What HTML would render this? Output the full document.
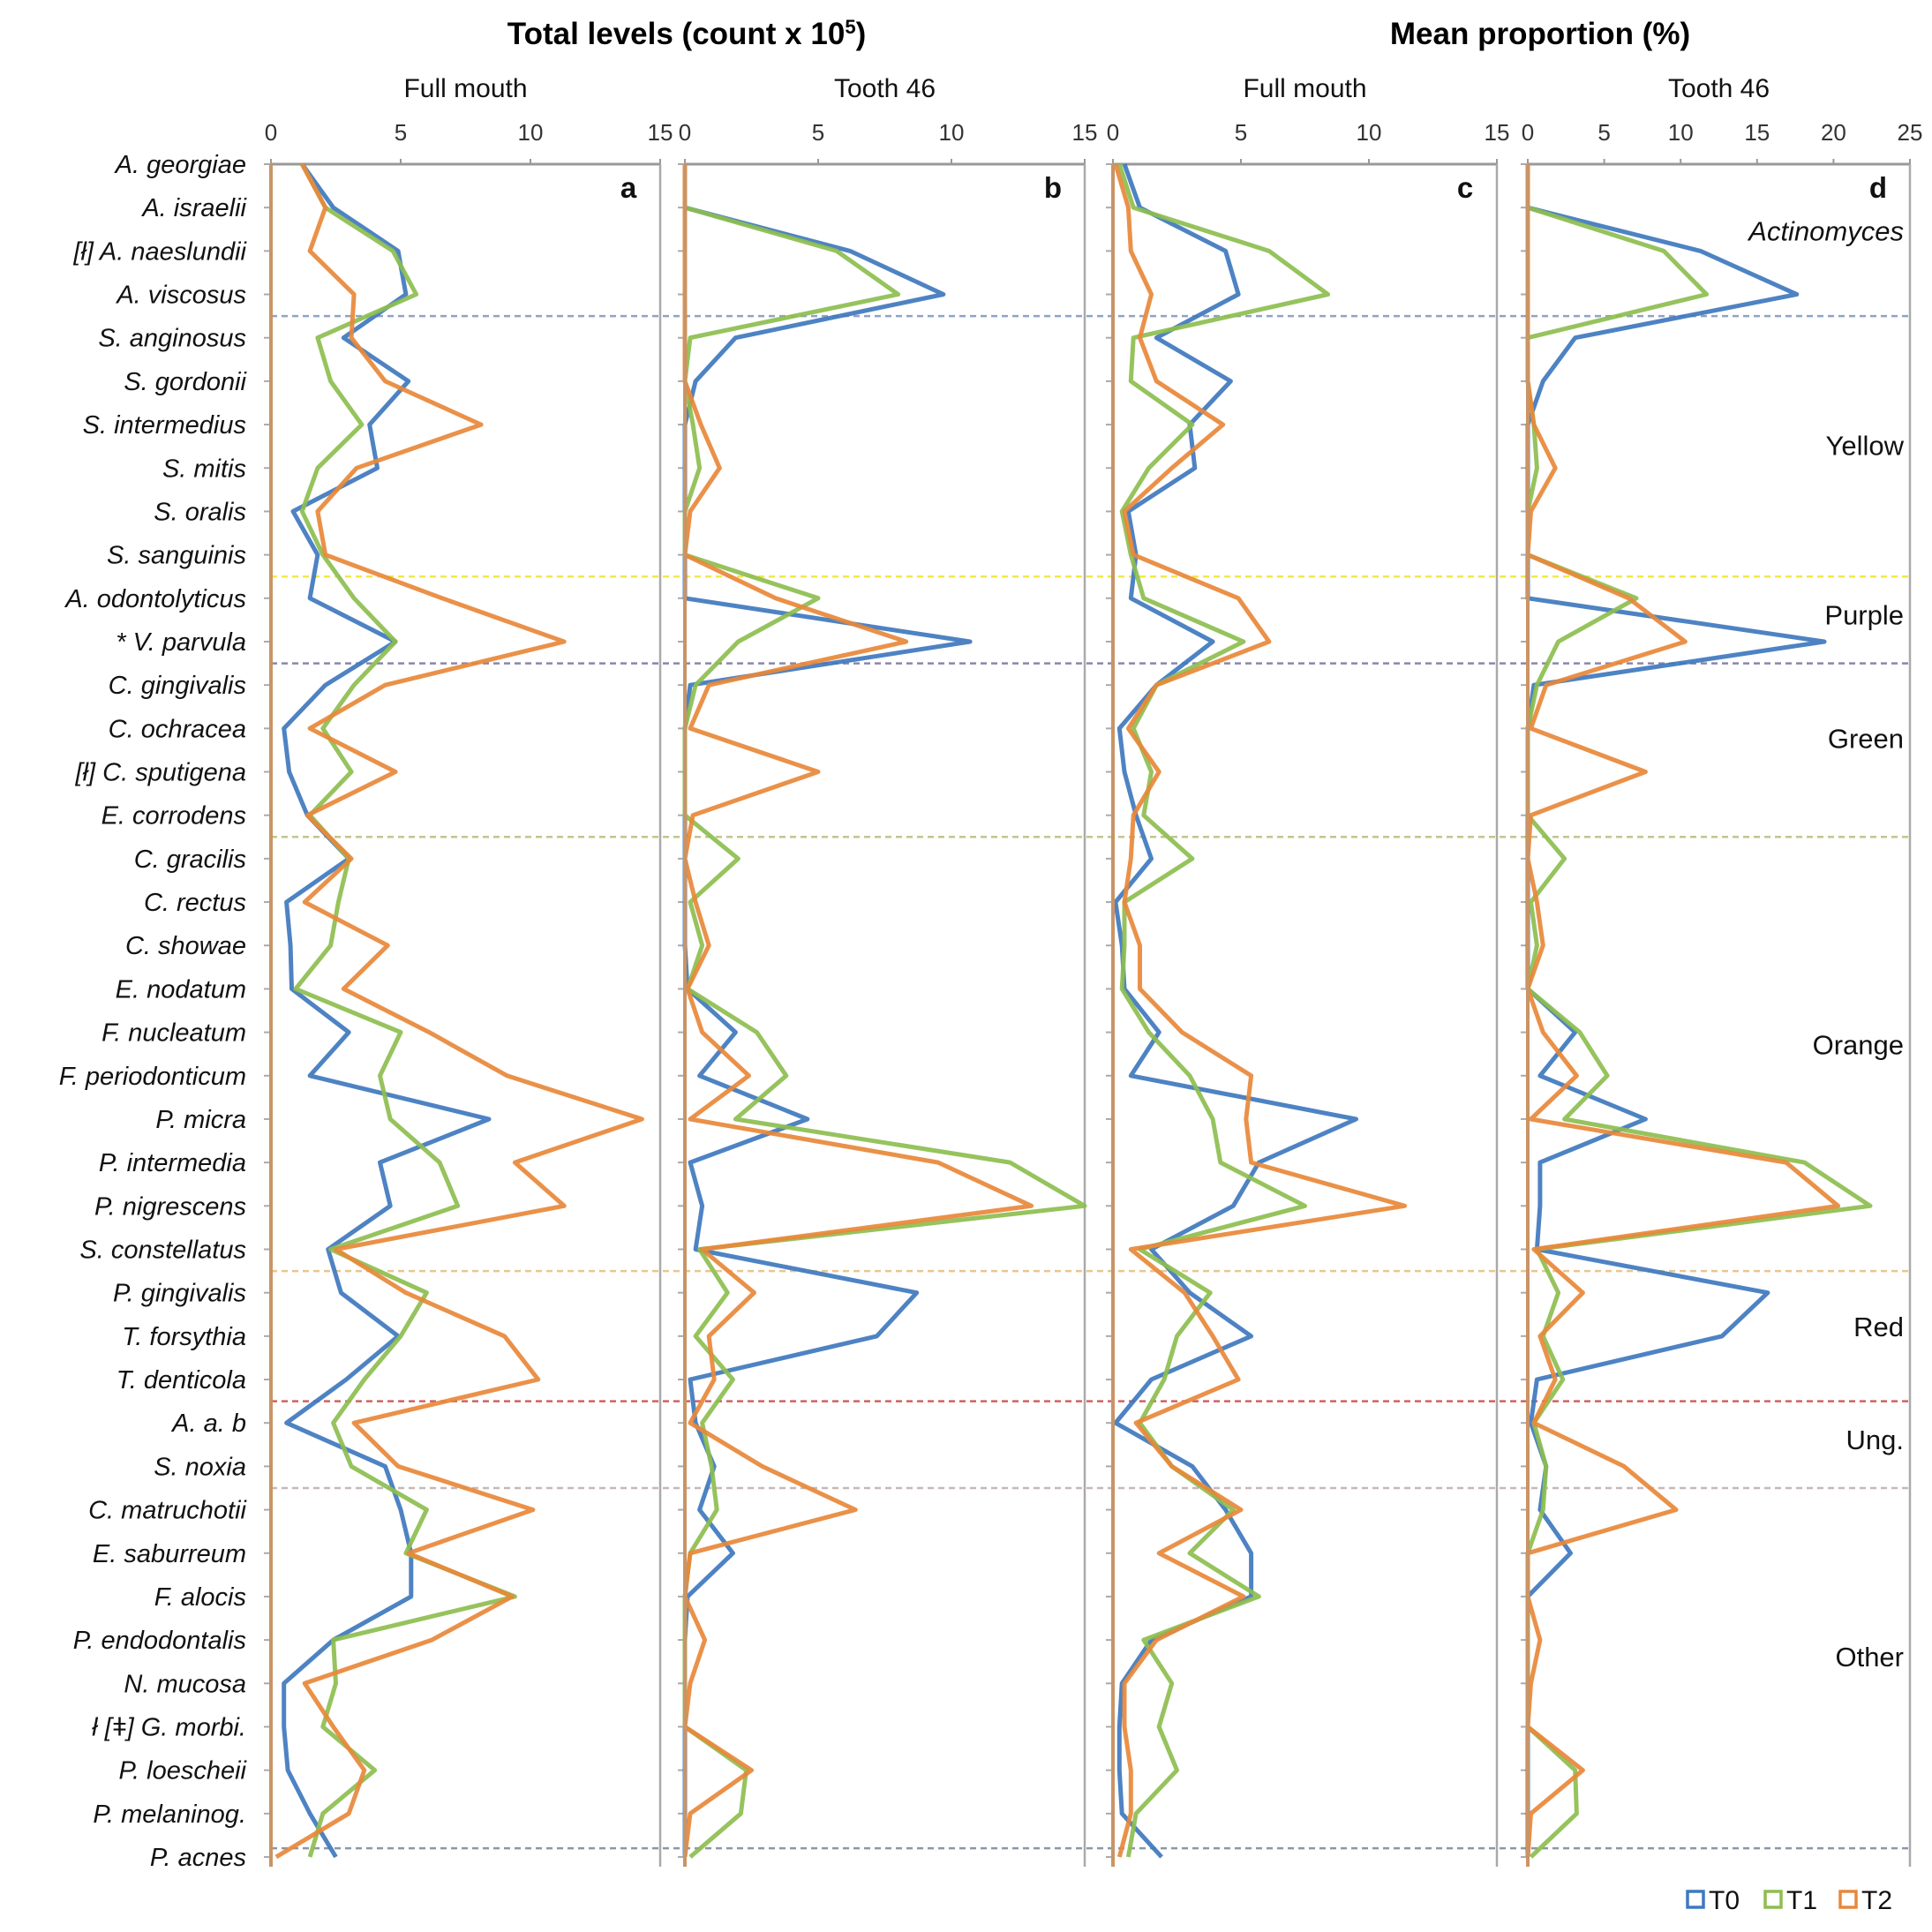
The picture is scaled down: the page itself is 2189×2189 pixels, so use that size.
<!DOCTYPE html>
<html><head><meta charset="utf-8">
<style>
html,body{margin:0;padding:0;background:#fff;}
svg{display:block;font-family:"Liberation Sans",sans-serif;}
</style></head>
<body>
<svg id="chart" width="2189" height="2189" viewBox="0 0 2189 2189" xmlns="http://www.w3.org/2000/svg">
<text x="778" y="50" text-anchor="middle" font-size="35" font-weight="bold">Total levels (count x 10<tspan font-size="22" dy="-12">5</tspan><tspan dy="12">)</tspan></text>
<text x="1745" y="50" text-anchor="middle" font-size="35" font-weight="bold">Mean proportion (%)</text>
<g id="plots"></g>
</svg>
<script>
const species = ["A. georgiae","A. israelii","[ł] A. naeslundii","A. viscosus","S. anginosus","S. gordonii","S. intermedius","S. mitis","S. oralis","S. sanguinis","A. odontolyticus","* V. parvula","C. gingivalis","C. ochracea","[ł] C. sputigena","E. corrodens","C. gracilis","C. rectus","C. showae","E. nodatum","F. nucleatum","F. periodonticum","P. micra","P. intermedia","P. nigrescens","S. constellatus","P. gingivalis","T. forsythia","T. denticola","A. a. b","S. noxia","C. matruchotii","E. saburreum","F. alocis","P. endodontalis","N. mucosa","ł [ǂ] G. morbi.","P. loescheii","P. melaninog.","P. acnes"];
const panelTitles = ["Full mouth","Tooth 46","Full mouth","Tooth 46"];
const panelLetters = ["a","b","c","d"];
const panelMax = [15,15,15,25];
const tickLabelsA = [0,5,10,15];
const tickLabelsD = [0,5,10,15,20,25];
const seriesNames = ["T0","T1","T2"];

const aT0 = [1.2,2.4,4.9,5.2,2.8,5.3,3.8,4.1,0.85,1.8,1.5,4.8,2.1,0.5,0.7,1.4,3.0,0.6,0.75,0.8,3.0,1.5,8.4,4.2,4.6,2.2,2.7,4.9,2.9,0.6,4.4,5.0,5.4,5.4,2.4,0.5,0.5,0.65,1.5,2.5];
const aT1 = [1.2,2.1,4.7,5.6,1.8,2.3,3.5,1.8,1.2,2.0,3.2,4.8,3.2,2.0,3.1,1.5,3.0,2.6,2.3,0.95,5.0,4.2,4.6,6.5,7.2,2.3,6.0,5.0,3.6,2.4,3.1,6.0,5.2,9.4,2.4,2.5,2.0,4.0,2.0,1.5];
const aT2 = [1.2,2.1,1.5,3.2,3.1,4.4,8.1,3.3,1.8,2.1,6.6,11.3,4.4,1.5,4.8,1.4,3.1,1.3,4.5,2.8,6.1,9.1,14.3,9.4,11.3,2.5,5.2,9.0,10.3,3.2,4.9,10.1,5.3,9.3,6.2,1.3,2.4,3.6,3.0,0.2];

const bT0 = [0,0,6.2,9.7,1.9,0.4,0,0,0,0,0,10.7,0.2,0,0,0,0,0,0,0.1,1.9,0.55,4.6,0.2,0.65,0.4,8.7,7.2,0.2,0.4,1.1,0.55,1.8,0.1,0,0,0,0,0,0];
const bT1 = [0,0,5.7,8.0,0.2,0,0.3,0.55,0,0,5.0,2.0,0.4,0,0,0,2.0,0.2,0.65,0.1,2.7,3.8,1.9,12.2,15.0,0.55,1.6,0.4,1.8,0.65,1.0,1.2,0.2,0,0,0,0,2.3,2.1,0.2];
const bT2 = [0,0,0,0,0,0,0.6,1.3,0.2,0,3.4,8.3,0.9,0.2,5.0,0.3,0,0.4,0.9,0.1,0.65,2.4,0.2,9.5,13.0,0.65,2.6,0.9,1.1,0.2,2.9,6.4,0.2,0,0.75,0.2,0,2.5,0.2,0];

const cT0 = [0.45,1.05,4.4,4.9,1.7,4.6,3.0,3.2,0.6,0.9,0.7,3.9,1.7,0.25,0.45,0.9,1.5,0.1,0.35,0.45,1.8,0.7,9.5,5.7,4.7,1.5,3.0,5.4,1.5,0.1,3.1,4.4,5.4,5.4,1.5,0.35,0.25,0.25,0.35,1.9];
const cT1 = [0.25,0.8,6.1,8.4,0.8,0.7,3.1,1.4,0.35,0.7,1.2,5.1,1.7,0.8,1.5,1.2,3.1,0.45,0.45,0.35,1.4,3.0,3.9,4.2,7.5,1.05,3.8,2.5,2.0,1.05,2.3,4.7,3.0,5.7,1.2,2.3,1.8,2.5,0.9,0.6];
const cT2 = [0.1,0.6,0.7,1.5,1.05,1.7,4.3,2.3,0.45,0.8,4.9,6.1,1.7,0.6,1.8,0.8,0.7,0.45,1.05,1.05,2.7,5.4,5.2,5.4,11.4,0.7,2.8,3.9,4.9,0.9,2.3,5.0,1.8,5.1,1.7,0.45,0.45,0.7,0.7,0.25];

const dT0 = [0,0,11.3,17.6,3.1,1.0,0,0,0,0,0,19.4,0.4,0,0,0,0,0,0,0,3.1,0.8,7.7,0.8,0.8,0.6,15.7,12.7,0.6,0.2,1.2,0.8,2.8,0,0,0,0,0,0,0];
const dT1 = [0,0,8.9,11.7,0,0,0.4,0.6,0,0,7.1,2.0,0.6,0,0,0,2.4,0.2,0.6,0,3.4,5.2,2.4,18.1,22.4,0.6,2.0,1.0,2.3,0.4,1.2,1.0,0,0,0,0,0,3.1,3.2,0.2];
const dT2 = [0,0,0,0,0,0,0.4,1.8,0.2,0,6.6,10.3,1.2,0.2,7.7,0.2,0,0.6,1.0,0,1.0,3.2,0.2,16.9,20.3,0.4,3.6,0.8,1.8,0.4,6.3,9.7,0,0,0.8,0.2,0,3.6,0.2,0];

const groupLabels = ["Actinomyces","Yellow","Purple","Green","Orange","Red","Ung.","Other"];
const groupRows = [1.56,6.5,10.4,13.25,20.3,26.8,29.4,34.4];
const sepRows = [3.5,9.5,11.5,15.5,25.5,28.5,30.5,38.8];
const sepColors = ["#8fa3c4","#f2e84a","#8a86aa","#c4c48e","#e8c690","#d06060","#c8b8b8","#8898aa"];

const NS = "http://www.w3.org/2000/svg";
const svg = document.getElementById('plots');
const colors = ["#3F78BE","#8DBE4F","#E8883A"];
const panels = [[307,748],[776,1229],[1261,1696],[1731,2164]];
const data = [[aT0,aT1,aT2],[bT0,bT1,bT2],[cT0,cT1,cT2],[dT0,dT1,dT2]];
const Y0 = 186, DY = 49.18, YB = 2115;
function yPos(i){return Y0 + i*DY;}
function xPos(p,v){return panels[p][0] + v/panelMax[p]*(panels[p][1]-panels[p][0]);}
function mk(tag, attrs, parent){const e=document.createElementNS(NS,tag);for(const k in attrs)e.setAttribute(k,attrs[k]);(parent||svg).appendChild(e);return e;}

species.forEach((s,i)=>{
  const t=mk('text',{x:279,y:yPos(i)+10,'text-anchor':'end','font-size':29,'font-style':'italic',fill:'#111'});
  
  
  t.textContent=s;
});

panels.forEach((pp,p)=>{
  const g=mk('g',{});
  
  
  const cx=(pp[0]+pp[1])/2;
  const st=mk('text',{x:cx,y:110,'text-anchor':'middle','font-size':30,fill:'#111'},g);
  
  
  st.textContent=panelTitles[p];
  const ax=mk('line',{x1:pp[0],y1:Y0,x2:pp[1],y2:Y0,stroke:'#999','stroke-width':3},g);
  
  
  const rb=mk('line',{x1:pp[1],y1:Y0,x2:pp[1],y2:YB,stroke:'#aaa','stroke-width':2.5},g);
  
  
  const ticks = p===3?tickLabelsD:tickLabelsA;
  ticks.forEach(v=>{
    const x=xPos(p,v);
    const tl=mk('text',{x:x,y:159,'text-anchor':'middle','font-size':26,fill:'#333'},g);
    
    
    tl.textContent=v;
    mk('line',{x1:x,y1:Y0,x2:x,y2:Y0-6,stroke:'#999','stroke-width':2},g);
  });
  species.forEach((s,i)=>{
    mk('line',{x1:pp[0]-8,y1:yPos(i),x2:pp[0],y2:yPos(i),stroke:'#aaa','stroke-width':2},g);
  });
  const lt=mk('text',{x:pp[1]-36,y:224,'text-anchor':'middle','font-size':33,'font-weight':'bold',fill:'#111'},g);
  
  
  lt.textContent=panelLetters[p];
});

sepRows.forEach((r,k)=>{
  const l=mk('line',{x1:307,y1:yPos(r),x2:2164,y2:yPos(r),stroke:sepColors[k],'stroke-width':2.5,'stroke-dasharray':'7,5'});
  
  
});

panels.forEach((pp,p)=>{
  data[p].forEach((vals,s)=>{
    const pts=vals.map((v,i)=>xPos(p,v).toFixed(1)+','+yPos(i).toFixed(1)).join(' ');
    const pl=mk('polyline',{points:pts,fill:'none',stroke:colors[s],'stroke-width':5,'stroke-linejoin':'round','stroke-opacity':0.92});
    
    
  });
  const la=mk('line',{x1:pp[0],y1:Y0,x2:pp[0],y2:YB,stroke:'#C99466','stroke-width':4});
  
  
});

groupLabels.forEach((g,k)=>{
  const t=mk('text',{x:2157,y:yPos(groupRows[k])+10,'text-anchor':'end','font-size':31,fill:'#111'});
  if(k===0)t.setAttribute('font-style','italic');
  
  
  t.textContent=g;
});

const lx=[1912,2000,2085];
seriesNames.forEach((n,s)=>{
  const r=mk('rect',{x:lx[s],y:2143,width:18,height:18,fill:'none',stroke:colors[s],'stroke-width':3.5});
  
  
  const t=mk('text',{x:lx[s]+24,y:2163,'font-size':30,fill:'#111'});
  
  
  t.textContent=n;
});
</script>
</body></html>
